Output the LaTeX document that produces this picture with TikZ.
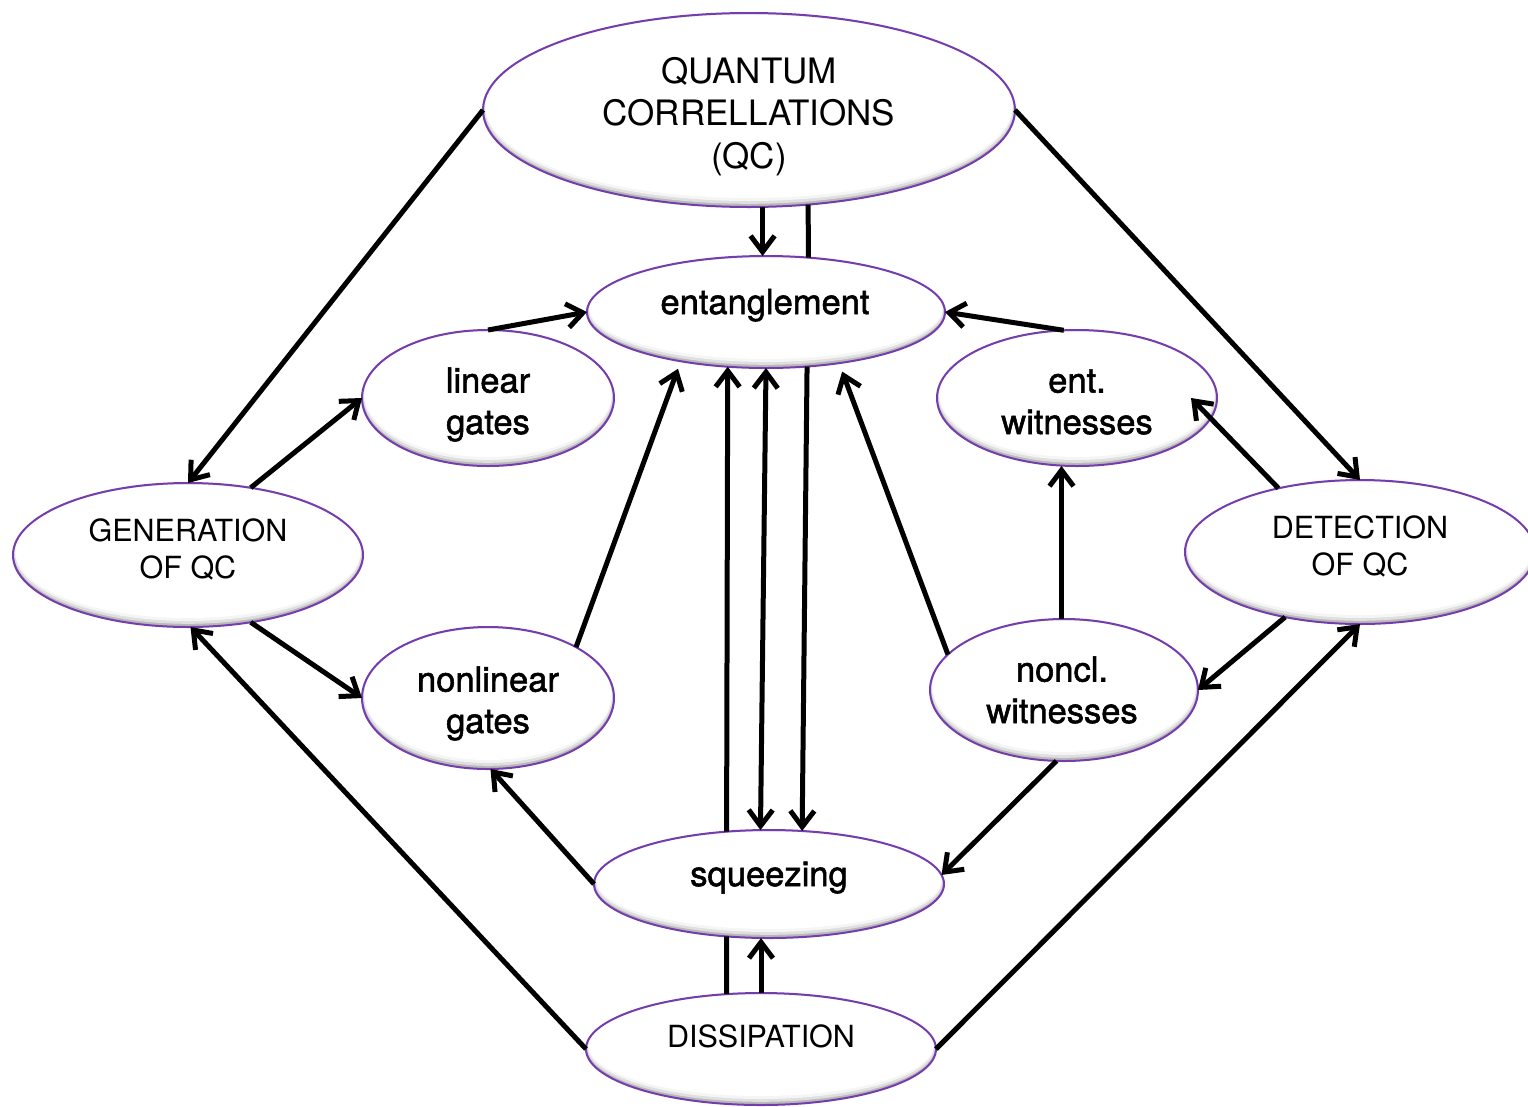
\documentclass[tikz,border=0pt]{standalone}
\usepackage{fontspec}
\setmainfont{TeX Gyre Heros}
\newfontfamily\medfont[FakeBold=1.6]{TeX Gyre Heros}
\usetikzlibrary{arrows.meta,shapes.geometric}

\definecolor{rim}{RGB}{116,60,172}

\tikzset{
  bubble/.style={ellipse, draw=rim, line width=2pt, inner sep=0pt, outer sep=0pt},
  bigcaps/.style={font=\fontsize{35}{42.5}\selectfont, align=center, anchor=base, inner sep=0pt},
  caps/.style={font=\fontsize{30.5}{37}\selectfont, align=center, anchor=base, inner sep=0pt},
  words/.style={font=\medfont\fontsize{34.5}{41.5}\selectfont, align=center, anchor=base, inner sep=0pt},
  plain/.style={line width=5pt},
  link/.style={line width=5pt, -{Straight Barb[length=16pt,width=24pt]}},
  duallink/.style={line width=5pt, {Straight Barb[length=16pt,width=24pt]}-{Straight Barb[length=16pt,width=24pt]}},
}

% an oval with a soft grey rim inside its lower edge
% #1 name, (#2,#3) centre, #4 x radius, #5 y radius
\newcommand\shadedbubble[5]{%
  \fill[gray!55] (#2,#3) ellipse [x radius=#4, y radius=#5];
  \fill[gray!25] (#2,#3-1.2) ellipse [x radius=#4-1, y radius=#5-2];
  \fill[gray!8] (#2,#3-2.4) ellipse [x radius=#4-2, y radius=#5-3.6];
  \fill[white] (#2,#3-3.6) ellipse [x radius=#4-2.5, y radius=#5-5.4];
  \node[bubble, minimum width={2*#4pt}, minimum height={2*#5pt}] (#1) at (#2,#3) {};
}

\begin{document}
\begin{tikzpicture}[x=1pt, y=-1pt]
\useasboundingbox (0,0) rectangle (1528,1106);

% ovals
\shadedbubble{qc}{749}{110}{266}{97}
\shadedbubble{ent}{766}{312}{179}{56}
\shadedbubble{lin}{488}{398}{126}{68}
\shadedbubble{ew}{1077}{398}{140}{68}
\shadedbubble{gen}{188}{555}{175}{72}
\shadedbubble{det}{1360}{552}{175}{72}
\shadedbubble{nl}{488}{698}{126}{71}
\shadedbubble{nw}{1064}{690}{134}{71}
\shadedbubble{sq}{769}{884}{175}{54}
\shadedbubble{dis}{761}{1049}{175}{56}

% labels (anchored on the baseline of their last line)
\node[bigcaps] (qc-t) at (749,168) {QUANTUM\\CORRELLATIONS\\(QC)};
\node[words] (ent-t) at (765,314) {entanglement};
\node[words] (lin-t) at (488,434) {linear\\gates};
\node[words] (ew-t) at (1077,434) {ent.\\witnesses};
\node[caps] (gen-t) at (188,578) {GENERATION\\OF QC};
\node[caps] (det-t) at (1360,575) {DETECTION\\OF QC};
\node[words] (nl-t) at (488,733) {nonlinear\\gates};
\node[words] (nw-t) at (1062,723) {noncl.\\witnesses};
\node[words] (sq-t) at (769,886) {squeezing};
\node[caps] (dis-t) at (761,1047) {DISSIPATION};

% connectors
\draw[link] (qc.west) -- (gen.north);
\draw[link] (qc.east) -- (det.north);
\draw[link] (qc.-82.4) -- (qc.-82.4 |- ent.north);
\draw[plain] (qc.-58) -- (ent.52.3);
\draw[link] (ent.-53.8) -- (sq.58.9);
\draw[plain] (dis.122.5) -- (sq.-129.4);
\draw[link] (sq.129.4) -- (ent.-125.5);
\draw[link] (dis.north) -- (dis.north |- sq.south);
\draw[duallink] (ent.south) -- (sq.99.5);
\draw[link] (lin.north) -- (ent.west);
\draw[link] (ew.101.7) -- (ent.east);
\draw[link] (gen.47.3) -- (lin.west);
\draw[link] (gen.-47.3) -- (nl.west);
\draw[link, shorten >=8pt] (nl.30.8) -- (ent.-150);
\draw[link] (sq.west) -- (nl.-88);
\draw[link, shorten >=9pt] (nw.163) -- (ent.-35.5);
\draw[link] (nw.92) -- (nw.92 |- ew.south);
\draw[link] (det.142) -- ([xshift=-26pt]ew.east);
\draw[link] (det.-139) -- (nw.east);
\draw[link] (nw.-96) -- (sq.3.7);
\draw[link] (dis.west) -- (gen.-88);
\draw[link] (dis.east) -- (det.south);
\end{tikzpicture}
\end{document}
